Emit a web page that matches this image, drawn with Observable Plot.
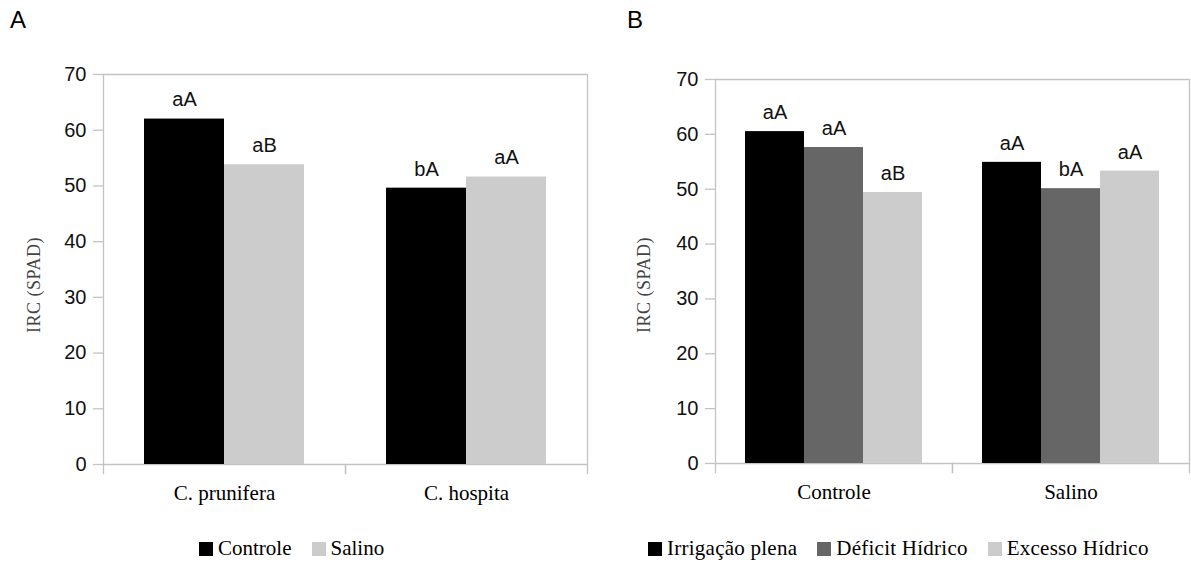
<!DOCTYPE html>
<html>
<head>
<meta charset="utf-8">
<script src="https://cdn.jsdelivr.net/npm/d3@7"></script>
<script src="https://cdn.jsdelivr.net/npm/@observablehq/plot@0.6"></script>
<style>
  html, body { margin: 0; padding: 0; background: #fff; }
  #fig { position: relative; width: 1191px; height: 562px; overflow: hidden; background: #fff; }
  .panel { position: absolute; top: 0; }
  .tag { position: absolute; font-family: "Liberation Sans", Arial, sans-serif; font-size: 24px; color: #000; }
  .ylab { position: absolute; width: 0; height: 0; }
  .ylab span { position: absolute; left: 0; top: 0; transform: translate(-50%, -50%) rotate(-90deg); white-space: nowrap;
    font-family: "Liberation Serif", "Times New Roman", serif; font-size: 18px; letter-spacing: 0.5px; color: #444; }
  .legend { position: absolute; display: flex; align-items: center; font-family: "Liberation Serif", "Times New Roman", serif; font-size: 21px; color: #000; white-space: nowrap; }
  .legend.wide { letter-spacing: 0.25px; }
  .legend .sw { display: inline-block; width: 14px; height: 14px; margin-right: 5px; }
  .legend .item { display: flex; align-items: center; margin-right: 20px; }
</style>
</head>
<body>
<div id="fig"></div>
<script>
// Panel A: chlorophyll index by species and salinity
const speciesA = ["C. prunifera", "C. hospita"];
const treatA = ["Controle", "Salino"];
const controleA = [62.0, 49.6];
const salinoA = [53.8, 51.6];
const lettersControleA = ["aA", "bA"];
const lettersSalinoA = ["aB", "aA"];

// Panel B: chlorophyll index by salinity and irrigation regime
const saltB = ["Controle", "Salino"];
const regimeB = ["Irrigação plena", "Déficit Hídrico", "Excesso Hídrico"];
const plenaB = [60.5, 54.9];
const deficitB = [57.6, 50.1];
const excessoB = [49.4, 53.3];
const lettersPlenaB = ["aA", "aA"];
const lettersDeficitB = ["aA", "bA"];
const lettersExcessoB = ["aB", "aA"];

const yTicks = [0, 10, 20, 30, 40, 50, 60, 70];
const yLabel = "IRC (SPAD)";

const rowsA = [];
speciesA.forEach((c, i) => {
  rowsA.push({cat: c, series: treatA[0], value: controleA[i], letter: lettersControleA[i]});
  rowsA.push({cat: c, series: treatA[1], value: salinoA[i], letter: lettersSalinoA[i]});
});
const rowsB = [];
saltB.forEach((c, i) => {
  rowsB.push({cat: c, series: regimeB[0], value: plenaB[i], letter: lettersPlenaB[i]});
  rowsB.push({cat: c, series: regimeB[1], value: deficitB[i], letter: lettersDeficitB[i]});
  rowsB.push({cat: c, series: regimeB[2], value: excessoB[i], letter: lettersExcessoB[i]});
});

const GRAY = "#c3c3c3";
const SERIF = "'Liberation Serif', 'Times New Roman', serif";
const SANS = "'Liberation Sans', Arial, sans-serif";

function panel({rows, cats, series, colors, width, height, marginTop, marginBottom, marginLeft, marginRight}) {
  const plotH = height - marginTop - marginBottom;
  return Plot.plot({
    width, height, marginTop, marginBottom, marginLeft, marginRight,
    style: {fontFamily: SANS, fontSize: "20px", background: "transparent", overflow: "visible"},
    fx: {domain: cats, padding: 0, label: null},
    x: {domain: series, paddingInner: 0, paddingOuter: 0.5, axis: null},
    y: {domain: [0, 70], label: null},
    color: {domain: series, range: colors},
    marks: [
      Plot.ruleY([0, 70], {stroke: GRAY, strokeWidth: 1.3}),
      // outer left and right borders of the plot area
      Plot.frame({anchor: "left", facetAnchor: "left", stroke: GRAY, strokeWidth: 1.3}),
      Plot.frame({anchor: "right", facetAnchor: "right", stroke: GRAY, strokeWidth: 1.3}),
      // short category separators below the baseline
      Plot.frame({anchor: "left", stroke: GRAY, strokeWidth: 1.3, insetTop: plotH, insetBottom: -9}),
      Plot.frame({anchor: "right", stroke: GRAY, strokeWidth: 1.3, insetTop: plotH, insetBottom: -9}),
      Plot.axisY({ticks: yTicks, tickSize: 10, tickPadding: 7, stroke: GRAY, strokeWidth: 1.3, label: null, fontSize: 20, fill: "#111"}),
      Plot.axisFx({anchor: "bottom", tickSize: 0, tickPadding: 21, label: null, fontFamily: SERIF, fontSize: 21, fill: "#000"}),
      Plot.barY(rows, {fx: "cat", x: "series", y: "value", fill: "series"}),
      Plot.text(rows, {fx: "cat", x: "series", y: "value", text: "letter", dy: -19, fontSize: 20, fill: "#111"})
    ]
  });
}

const fig = document.getElementById("fig");

const svgA = panel({
  rows: rowsA, cats: speciesA, series: treatA, colors: ["#000000", "#cccccc"],
  width: 595, height: 520, marginTop: 74, marginBottom: 56, marginLeft: 102, marginRight: 8
});
svgA.classList.add("panel");
svgA.style.left = "0px";
fig.appendChild(svgA);

const svgB = panel({
  rows: rowsB, cats: saltB, series: regimeB, colors: ["#000000", "#666666", "#cccccc"],
  width: 591, height: 520, marginTop: 79, marginBottom: 57, marginLeft: 114, marginRight: 1.5
});
svgB.classList.add("panel");
svgB.style.left = "600px";
fig.appendChild(svgB);

function tag(text, left, top) {
  const d = document.createElement("div");
  d.className = "tag";
  d.textContent = text;
  d.style.left = left + "px";
  d.style.top = top + "px";
  fig.appendChild(d);
}
tag("A", 10, 6);
tag("B", 627, 6);

function ylab(cx, cy) {
  const d = document.createElement("div");
  d.className = "ylab";
  d.style.left = cx + "px";
  d.style.top = cy + "px";
  const s = document.createElement("span");
  s.textContent = yLabel;
  d.appendChild(s);
  fig.appendChild(d);
}
ylab(34, 285);
ylab(644, 285);

function legend(series, colors, left, top, extra) {
  const d = document.createElement("div");
  d.className = "legend" + (extra ? " " + extra : "");
  d.style.left = left + "px";
  d.style.top = top + "px";
  series.forEach((s, i) => {
    const it = document.createElement("span");
    it.className = "item";
    const sw = document.createElement("span");
    sw.className = "sw";
    sw.style.background = colors[i];
    it.appendChild(sw);
    it.appendChild(document.createTextNode(s));
    d.appendChild(it);
  });
  fig.appendChild(d);
}
legend(treatA, ["#000000", "#cccccc"], 199, 536);
legend(regimeB, ["#000000", "#666666", "#cccccc"], 648, 536, "wide");
</script>
</body>
</html>
